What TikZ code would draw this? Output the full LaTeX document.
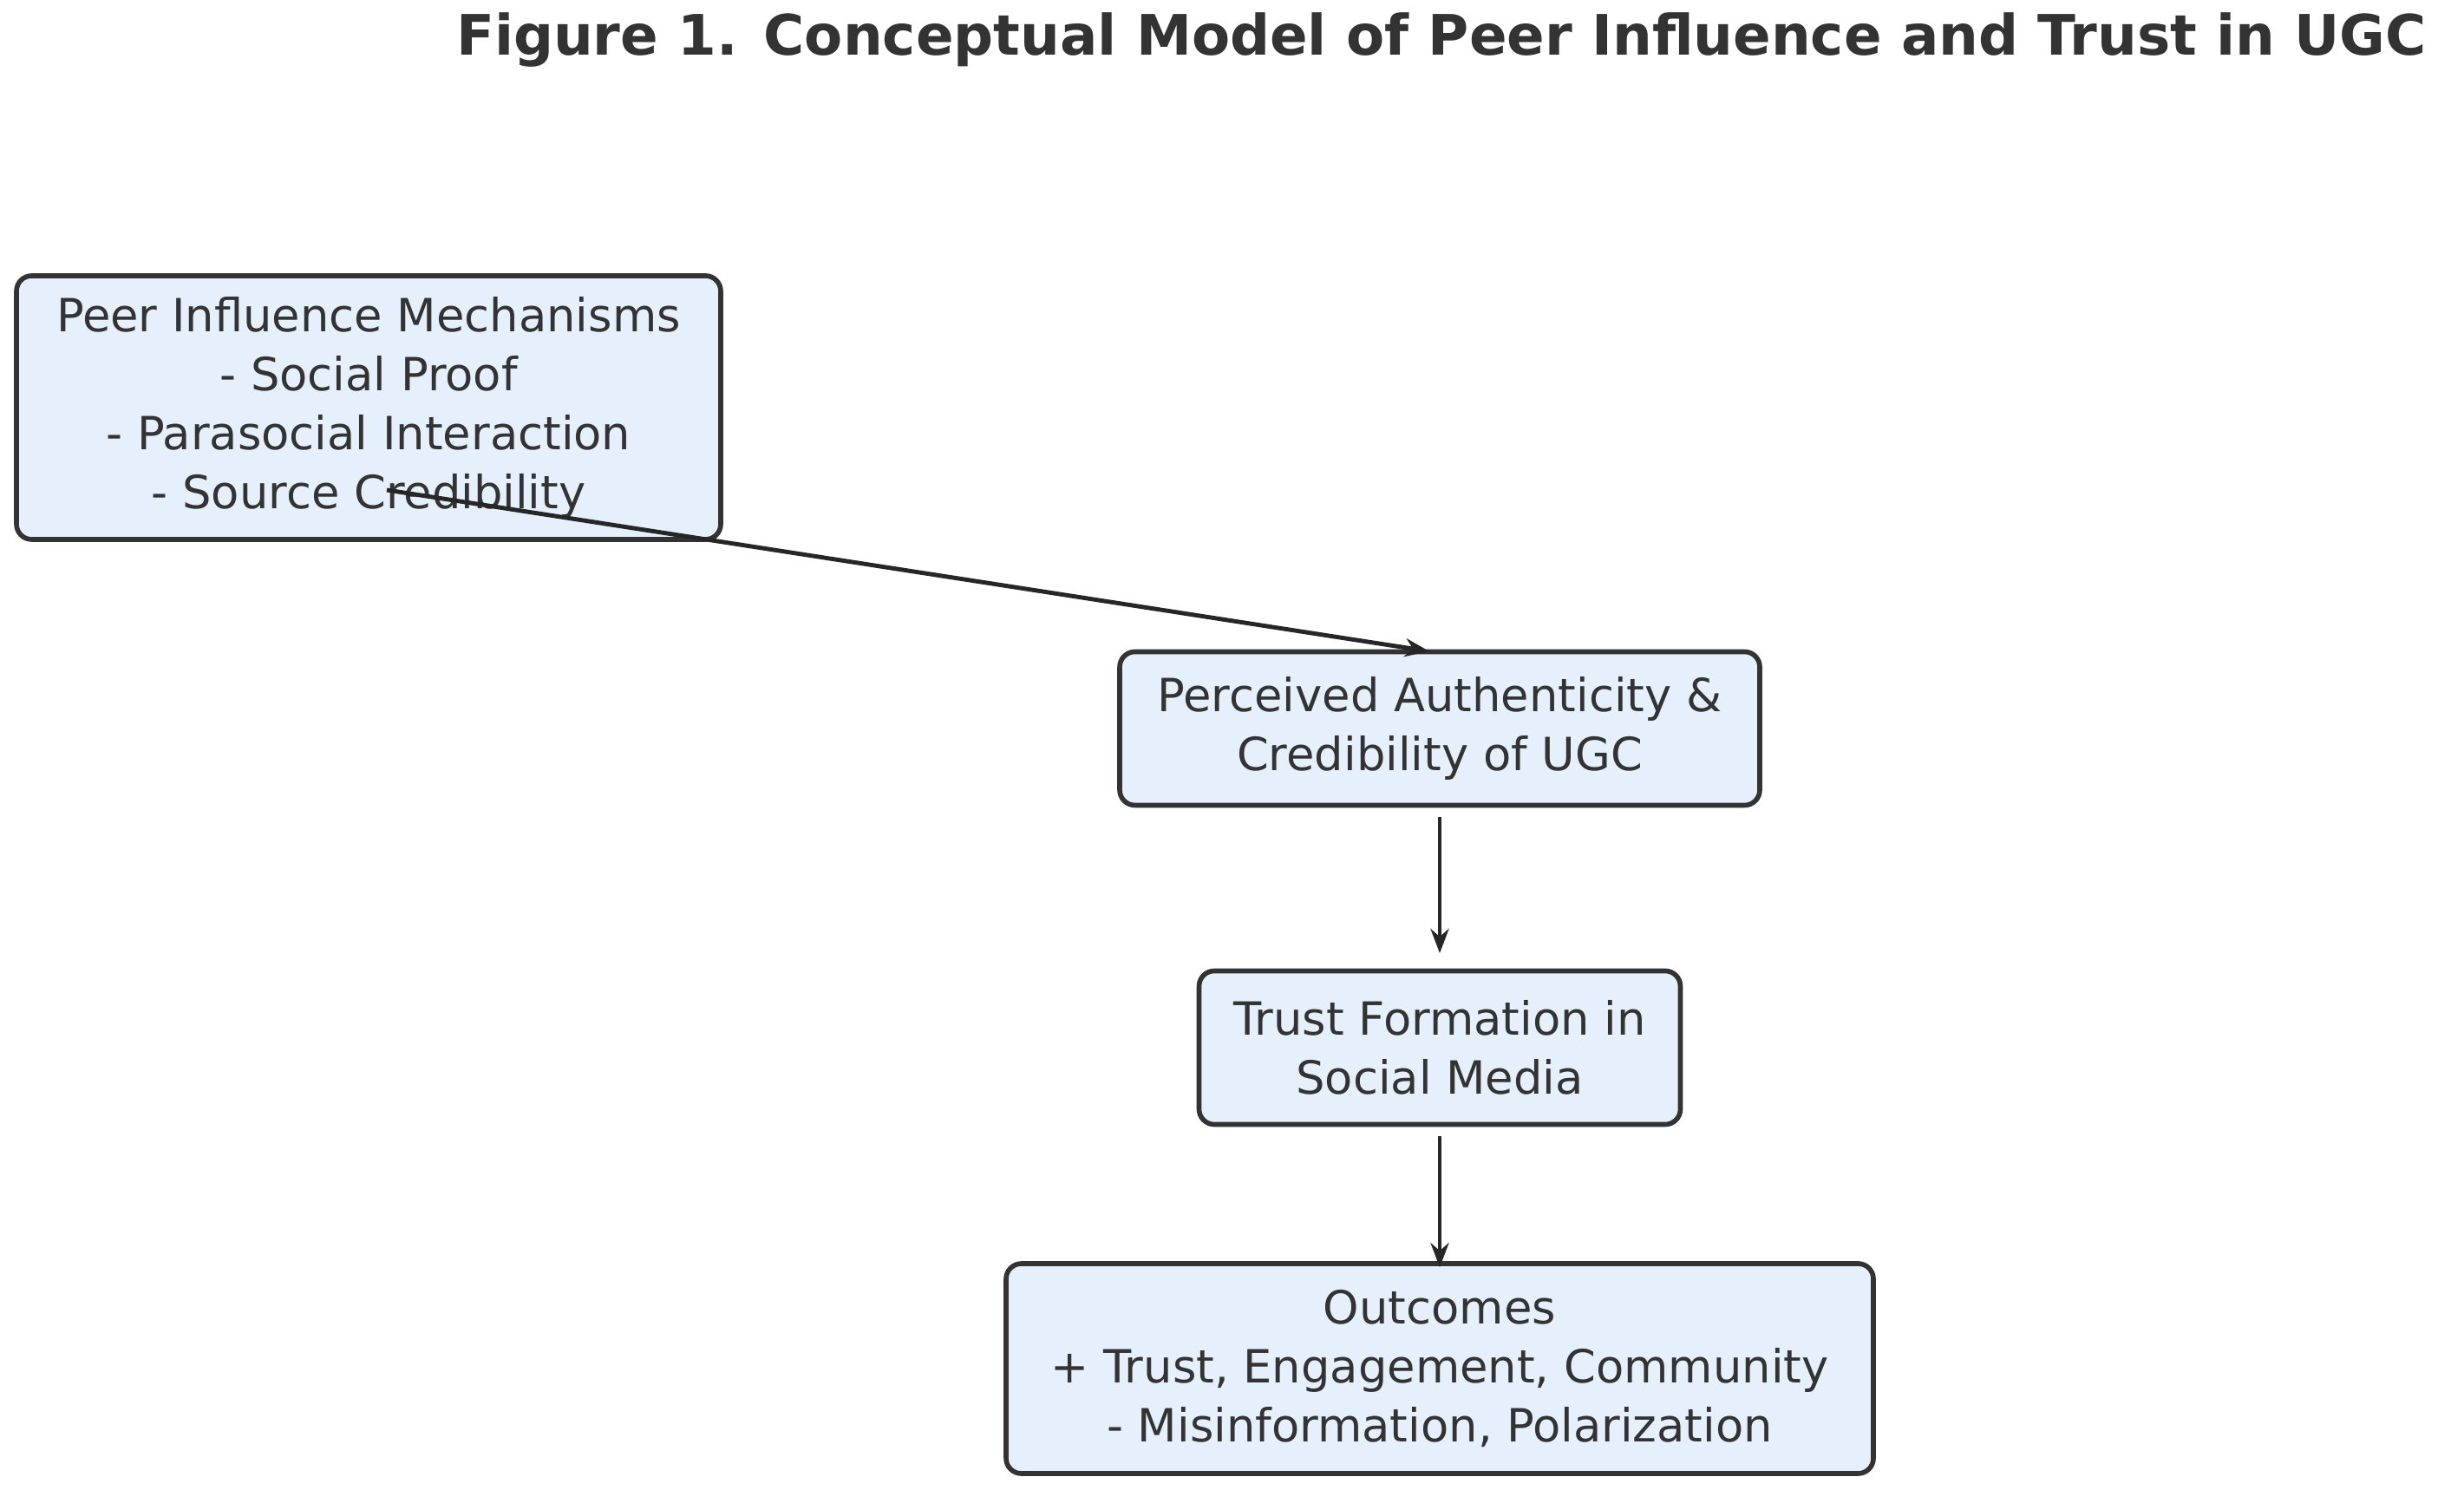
\documentclass[tikz,border=0pt]{standalone}
\usepackage{fontspec}
\setmainfont{DejaVu Sans}
\usetikzlibrary{arrows.meta}
\definecolor{boxfill}{HTML}{E6F0FD}
\definecolor{boxline}{HTML}{333333}
\tikzset{
  box/.style={rectangle, rounded corners=5pt, draw=boxline, line width=1.6pt, fill=boxfill,
    align=center, text=boxline, font=\fontsize{15}{19.3}\selectfont, inner sep=0pt},
  arrow/.style={line width=1.4pt, draw=black!85, -{Stealth[length=8pt,width=6pt]}}
}
\begin{document}
\begin{tikzpicture}
  \useasboundingbox (0,0) rectangle (28.41,17.18);
  \node (TITLE) at (16.62,16.72) [font=\bfseries\fontsize{18.3}{22}\selectfont, text=boxline] {Figure 1. Conceptual Model of Peer Influence and Trust in UGC};

  \node (PEER) at (4.25,12.48) [box, minimum width=8.12cm, minimum height=3.04cm] {Peer Influence Mechanisms\\- Social Proof\\- Parasocial Interaction\\- Source Credibility};
  \node (AUTH) at (16.6,8.78) [box, minimum width=7.38cm, minimum height=1.77cm] {Perceived Authenticity \&\\Credibility of UGC};
  \node (TRUST) at (16.6,5.10) [box, minimum width=5.55cm, minimum height=1.77cm] {Trust Formation in\\Social Media};
  \node (OUT) at (16.6,1.40) [box, minimum width=10.0cm, minimum height=2.42cm] {Outcomes\\+ Trust, Engagement, Community\\- Misinformation, Polarization};

  \coordinate (START) at (4.46,11.53);
  \coordinate (END) at (16.48,9.67);
  \draw [arrow] (START) -- (END);
  \draw [arrow, shorten <=3pt, shorten >=5pt] (AUTH) -- (TRUST);
  \draw [arrow, shorten <=3pt, shorten >=-2pt] (TRUST) -- (OUT);
\end{tikzpicture}
\end{document}
